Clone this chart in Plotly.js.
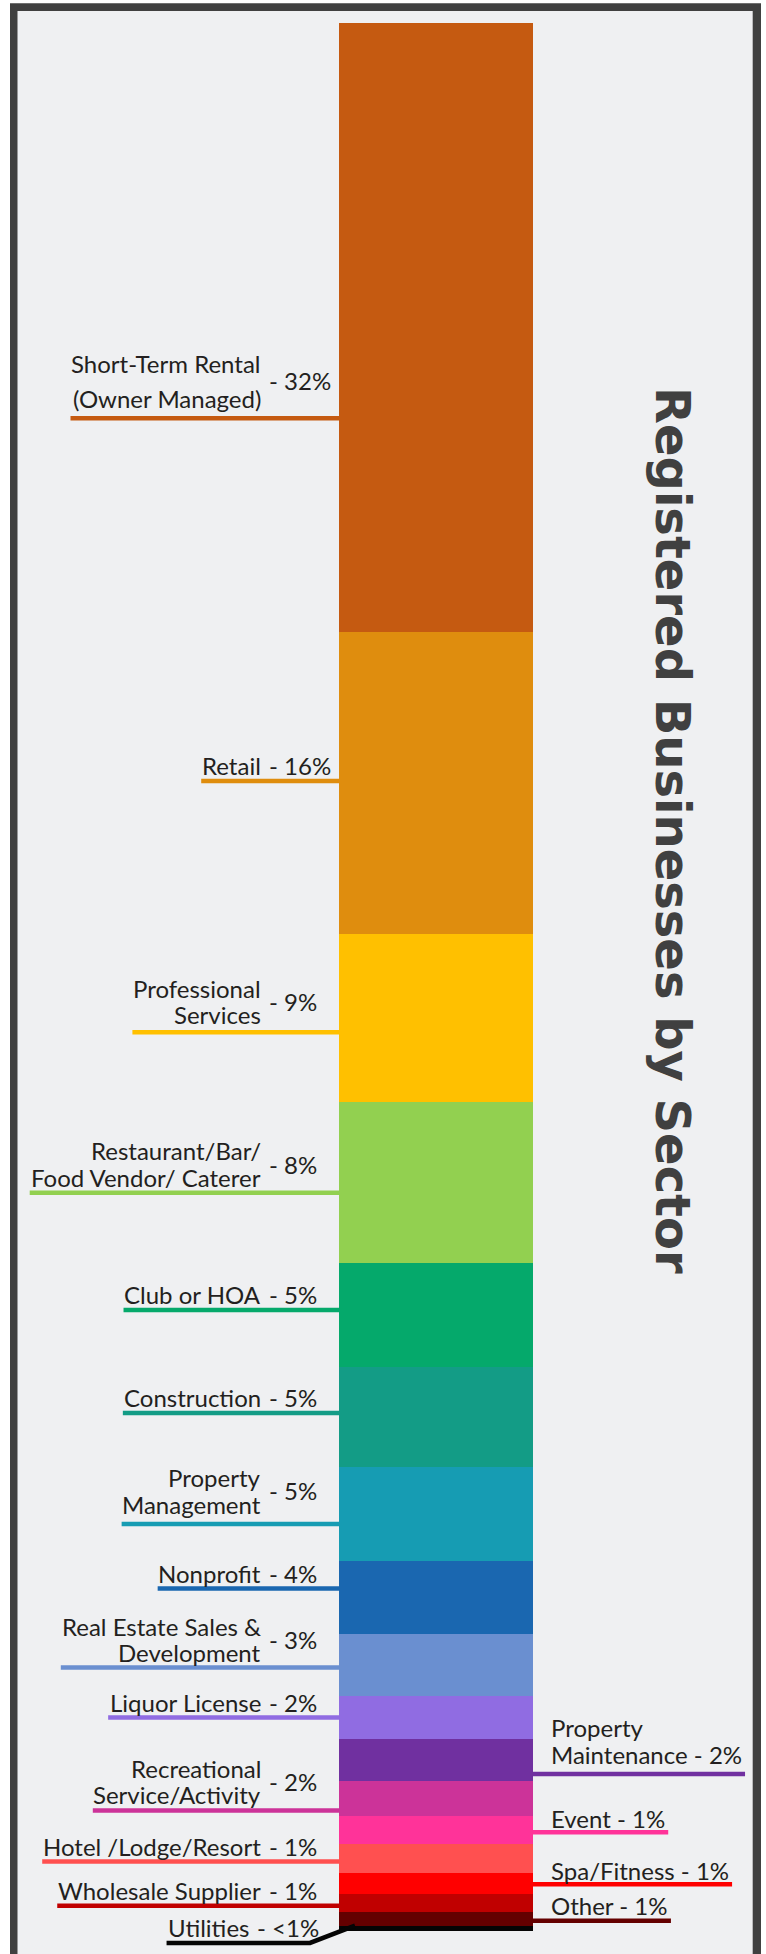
<!DOCTYPE html>
<html>
<head>
<meta charset="utf-8">
<script src="https://cdn.plot.ly/plotly-3.0.1.min.js"></script>
<style>
html,body{margin:0;padding:0;background:#ffffff;}
#chart{width:766px;height:1954px;}
</style>
</head>
<body>
<div id="chart"></div>
<script>
// ---------------- DATA ----------------
const categories = [
  "Short-Term Rental<br>(Owner Managed)",
  "Retail",
  "Professional<br>Services",
  "Restaurant/Bar/<br>Food Vendor/ Caterer",
  "Club or HOA",
  "Construction",
  "Property<br>Management",
  "Nonprofit",
  "Real Estate Sales &<br>Development",
  "Liquor License",
  "Property<br>Maintenance",
  "Recreational<br>Service/Activity",
  "Event",
  "Hotel /Lodge/Resort",
  "Spa/Fitness",
  "Wholesale Supplier",
  "Other",
  "Utilities"
];
const values = [31.9, 15.85, 8.82, 8.44, 5.45, 5.24, 4.9, 3.84, 3.23, 2.27, 2.2, 1.83, 1.48, 1.49, 1.12, 0.93, 0.73, 0.28];
const percentLabels = ["32%","16%","9%","8%","5%","5%","5%","4%","3%","2%","2%","2%","1%","1%","1%","1%","1%","<1%"];

// ---------------- STYLE / LABEL LAYOUT ----------------
const colors = ["#c55a11","#df8d0e","#ffc000","#92d050","#05a96b","#139c86","#169cb3","#1a67b0","#6a8fd0","#906ce2","#7030a0","#cc3399","#ff3399","#ff5050","#ff0000","#c00000","#640000","#050505"];
const labelSide = ["L","L","L","L","L","L","L","L","L","L","R","L","R","L","R","L","R","L"];
const leaderOffsetPx = [91,-1.75,14,10,-5.3,-4.3,10,-9,2.5,0,14,12,2.3,3,1,3,2,14.6];
const baselineGapPx = [11,6,8,6.3,6.7,6,10.7,6,5.6,6,10,6.3,4.8,6,4.3,6,5.8,6.3];
const lineSpacingPx = [35,26,26,26.5,26,26,26.5,26,26,26,27,26,26,26,26,26,26,26];
const labelDxPx = [0,0,0,0,0,0,0,0,0,0,0,0,0,0,0,0,0,-12];
const elbowPx = {17: [310, 355]};

const W = 766, H = 1954;
const BAR_TOP = 23, BAR_BOTTOM = 1931, BAR_LEFT = 339.3, BAR_RIGHT = 532.7;
const NAME_RIGHT = 263, PCT_GAP = 4, RIGHT_TEXT_X = 549;
const FONT_FAMILY = "Lato";
const FONT_SIZE = 24;
const TEXT_COLOR = "#231f20";
const MID_SHIFT = 9.3; // bbox centre above baseline (px)
const LEADER_W = 4.5;

const total = values.reduce((a, b) => a + b, 0);
const ppu = (BAR_BOTTOM - BAR_TOP) / total;
const yRange = [(H - BAR_TOP) / ppu, -BAR_TOP / ppu];
const bw = BAR_RIGHT - BAR_LEFT, bc = (BAR_LEFT + BAR_RIGHT) / 2;
const xRange = [-bc / bw, (W - bc) / bw];

const ctx = document.createElement("canvas").getContext("2d");
function tw(s) { ctx.font = FONT_SIZE + "px " + FONT_FAMILY; return ctx.measureText(s).width; }
function esc(s) { return s.replace(/</g, "&lt;"); }

const traces = categories.map((c, i) => ({
  type: "bar",
  x: [0],
  y: [values[i]],
  width: [1],
  name: c.replace(/<br>/g, " "),
  marker: { color: colors[i], line: { width: 0 } },
  hoverinfo: "skip",
  showlegend: false
}));

const annotations = [];
const shapes = [];
const labelFont = { family: FONT_FAMILY, size: FONT_SIZE, color: TEXT_COLOR };

// frame
shapes.push({ type: "rect", xref: "paper", yref: "paper", layer: "below",
  x0: 10 / W, x1: 761 / W, y0: -0.05, y1: 1 - 3.3 / H, fillcolor: "#404040", line: { width: 0 } });
shapes.push({ type: "rect", xref: "paper", yref: "paper", layer: "below",
  x0: 17.5 / W, x1: 752.7 / W, y0: -0.05, y1: 1 - 11 / H, fillcolor: "#eff0f2", line: { width: 0 } });

let cum = 0;
categories.forEach((cat, i) => {
  const start = cum;
  const mid = cum + values[i] / 2;
  cum += values[i];
  const lines = cat.split("<br>");
  const leaderY = mid + leaderOffsetPx[i] / ppu;
  const sp = lineSpacingPx[i];
  const base = baselineGapPx[i] + MID_SHIFT;
  const pct = "- " + percentLabels[i];
  const col = colors[i];
  if (labelSide[i] === "L") {
    const right = NAME_RIGHT + labelDxPx[i];
    lines.forEach((ln, k) => {
      const fb = lines.length - 1 - k;
      annotations.push({ xref: "paper", yref: "y", x: right / W, y: leaderY, xanchor: "right", yanchor: "middle",
        yshift: base + fb * sp, text: esc(ln), showarrow: false, font: labelFont, align: "right" });
    });
    annotations.push({ xref: "paper", yref: "y", x: (right + PCT_GAP) / W, y: leaderY, xanchor: "left", yanchor: "middle",
      yshift: base + (lines.length - 1) * sp / 2, text: esc(pct), showarrow: false, font: labelFont });
    const maxW = Math.max(...lines.map(tw));
    const x0 = right - 1 - maxW - 2;
    if (elbowPx[i]) {
      const [ex, bx] = elbowPx[i];
      shapes.push({ type: "path", xref: "paper", yref: "y",
        path: `M ${x0 / W} ${leaderY} L ${ex / W} ${leaderY} L ${bx / W} ${start}`,
        line: { color: col, width: LEADER_W }, layer: "above" });
    } else {
      shapes.push({ type: "line", xref: "paper", yref: "y", x0: x0 / W, x1: BAR_LEFT / W, y0: leaderY, y1: leaderY,
        line: { color: col, width: LEADER_W }, layer: "above" });
    }
  } else {
    const full = lines.slice();
    full[full.length - 1] = full[full.length - 1] + " " + pct;
    full.forEach((ln, k) => {
      const fb = full.length - 1 - k;
      annotations.push({ xref: "paper", yref: "y", x: RIGHT_TEXT_X / W, y: leaderY, xanchor: "left", yanchor: "middle",
        yshift: base + fb * sp, text: esc(ln), showarrow: false, font: labelFont, align: "left" });
    });
    const maxW = Math.max(...full.map(tw));
    const x1 = RIGHT_TEXT_X + 1 + maxW + 4;
    shapes.push({ type: "line", xref: "paper", yref: "y", x0: BAR_RIGHT / W, x1: x1 / W, y0: leaderY, y1: leaderY,
      line: { color: col, width: LEADER_W }, layer: "above" });
  }
});

// title
annotations.push({ xref: "paper", yref: "paper", x: 673 / W, y: 1 - 830 / H, xanchor: "center", yanchor: "middle",
  text: "<b>Registered Businesses by Sector</b>", textangle: 90, showarrow: false,
  font: { family: "DejaVu Sans", size: 48, color: "#404040" } });

const layout = {
  width: W, height: H,
  margin: { l: 0, r: 0, t: 0, b: 0, pad: 0 },
  paper_bgcolor: "#ffffff",
  plot_bgcolor: "rgba(0,0,0,0)",
  barmode: "stack",
  bargap: 0,
  showlegend: false,
  xaxis: { range: xRange, visible: false, fixedrange: true },
  yaxis: { range: yRange, visible: false, fixedrange: true },
  annotations: annotations,
  shapes: shapes
};

Plotly.newPlot("chart", traces, layout, { staticPlot: true, displayModeBar: false });
</script>
</body>
</html>
